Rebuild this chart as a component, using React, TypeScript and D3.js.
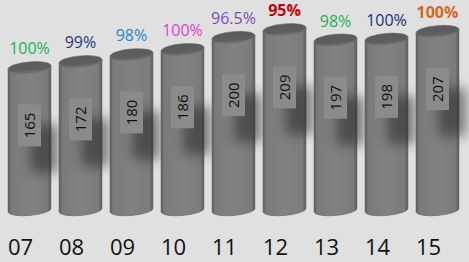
import React from "react"
import * as d3 from "d3"

const years = ["07", "08", "09", "10", "11", "12", "13", "14", "15"]
const totals = [165, 172, 180, 186, 200, 209, 197, 198, 207]
const rates = ["100%", "99%", "98%", "100%", "96.5%", "95%", "98%", "100%", "100%"]

// colours of the rate labels, one per year
const rateColours = ["#1db254", "#1c3a7c", "#2a86d2", "#e23fd0", "#7a4cc0", "#c4000b", "#22b253", "#1c2f74", "#d5671c"]
const boldYears = ["12", "15"]

const W = 469
const H = 262

const App = () => {
    const x = d3.scaleBand().domain(years).range([8, 459]).paddingInner(0.157).paddingOuter(0)
    const y = d3.scaleLinear().domain([0, 240]).range([210, 2.6])
    const base = y(0)
    const bw = x.bandwidth()
    const rx = bw / 2
    const ry = 5.5
    const tilt = -5
    const t = (tilt * Math.PI) / 180
    const dx = rx * Math.cos(t)
    const dy = rx * Math.sin(t)

    // cylinder side + bottom half of base ellipse
    const bodyPath = (cx: number, top: number) =>
        `M${cx - dx},${top - dy} L${cx - dx},${base - dy} ` +
        `A${rx},${ry} ${tilt} 0 0 ${cx + dx},${base + dy} ` +
        `L${cx + dx},${top + dy} ` +
        `A${rx},${ry} ${tilt} 0 1 ${cx - dx},${top - dy} Z`

    return (
        <div style={{ position: "fixed", left: 0, top: 0, width: W, height: H, background: "#e0e0e0" }}>
            <svg width={W} height={H} style={{ display: "block" }} fontFamily="'Open Sans', sans-serif">
                <defs>
                    <linearGradient id="body" x1="0" x2="1" y1="0" y2="0">
                        <stop offset="0" stopColor="#585858" />
                        <stop offset="0.07" stopColor="#7a7a7a" />
                        <stop offset="0.5" stopColor="#828282" />
                        <stop offset="0.92" stopColor="#7b7b7b" />
                        <stop offset="1" stopColor="#575757" />
                    </linearGradient>
                    <linearGradient id="cap" x1="0" x2="0" y1="0" y2="1">
                        <stop offset="0" stopColor="#5a5a5a" />
                        <stop offset="0.7" stopColor="#5e5e5e" />
                        <stop offset="1" stopColor="#6e6e6e" />
                    </linearGradient>
                    <filter id="blur" x="-100%" y="-100%" width="300%" height="300%">
                        <feGaussianBlur stdDeviation="6" />
                    </filter>
                </defs>

                {years.map((yr, i) => {
                    const left = x(yr) as number
                    const cx = left + rx
                    const top = y(totals[i])
                    const mid = top + 58
                    const boxH = 42
                    return (
                        <g key={yr}>
                            <path d={bodyPath(cx, top)} fill="url(#body)" stroke="#616161" strokeWidth={0.6} />
                            <ellipse
                                cx={cx}
                                cy={top}
                                rx={rx}
                                ry={ry}
                                transform={`rotate(${tilt},${cx},${top})`}
                                fill="url(#cap)"
                                stroke="#6c6c6c"
                                strokeWidth={0.6}
                            />
                            <rect
                                x={left + 22}
                                y={mid - boxH / 2 + 20}
                                width={28}
                                height={boxH + 6}
                                fill="#262626"
                                opacity={0.55}
                                filter="url(#blur)"
                            />
                            <rect x={left + 10} y={mid - boxH / 2} width={23} height={boxH} fill="#8b8b8b" />
                            <text
                                x={left + 21}
                                y={mid}
                                transform={`rotate(-90,${left + 21},${mid})`}
                                textAnchor="middle"
                                dominantBaseline="central"
                                fontSize={15}
                                fill="#111"
                            >
                                {totals[i]}
                            </text>
                            <text
                                x={cx}
                                y={top - 13}
                                textAnchor="middle"
                                fontSize={16}
                                fontWeight={boldYears.includes(yr) ? 700 : 400}
                                fill={rateColours[i]}
                            >
                                {rates[i]}
                            </text>
                            <text x={left} y={255} fontSize={22} fill="#111">
                                {yr}
                            </text>
                        </g>
                    )
                })}
            </svg>
        </div>
    )
}

export default App
